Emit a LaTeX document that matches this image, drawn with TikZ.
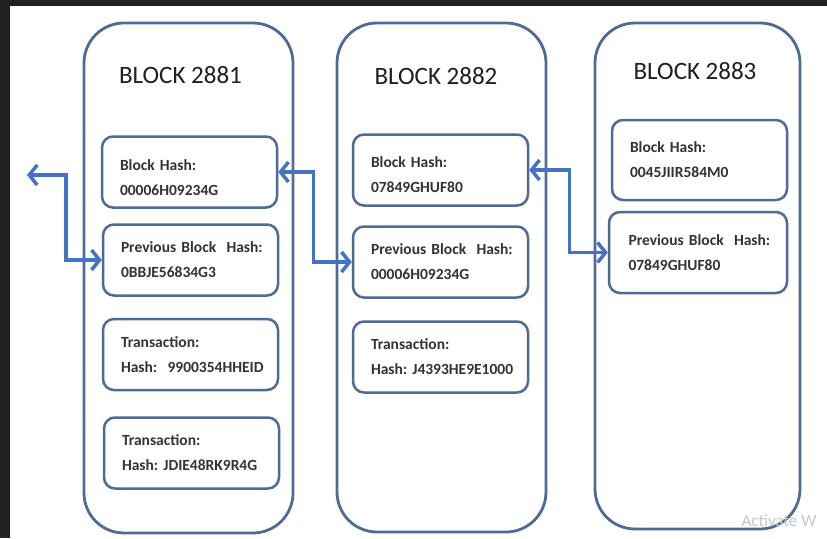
\documentclass[tikz,border=0pt]{standalone}
\usepackage{fontspec}
\setmainfont{Carlito}
\usetikzlibrary{positioning,arrows.meta,calc}
\definecolor{blockline}{RGB}{78,106,150}
\definecolor{linkblue}{RGB}{68,114,196}
\definecolor{framedark}{RGB}{34,34,34}
\tikzset{
  >={Straight Barb[length=8pt,width=20pt]},
}

\begin{document}
\begin{tikzpicture}[x=1pt, y=-1pt,
  chain/.style={draw=blockline, line width=2.8pt, rounded corners=40pt},
  title/.style={font=\fontsize{25}{30}\selectfont, text=black!88},
  field/.style={draw=blockline, line width=2.5pt, rounded corners=11pt, minimum width=175pt, minimum height=71pt,
    inner xsep=18pt, text width=139pt, align=left, font=\bfseries\fontsize{15.5}{25}\selectfont, text=black!80},
  link/.style={<->, draw=linkblue, line width=3.5pt}
]
  \clip (0,0) rectangle (827,538);
  \fill[white] (0,0) rectangle (827,538);
  \fill[framedark] (0,0) rectangle (827,6);
  \fill[framedark] (0,0) rectangle (10,538);

  \node[chain, minimum width=209pt, minimum height=510pt] (b1) at (188.5,278) {};
  \node[chain, minimum width=209pt, minimum height=509pt] (b2) at (441.5,277.5) {};
  \node[chain, minimum width=205pt, minimum height=506pt] (b3) at (697.5,276) {};

  \node[title] (t1) at (180.5,75) {BLOCK 2881};
  \node[title] (t2) at (436,76) {BLOCK 2882};
  \node[title] (t3) at (695,71) {BLOCK 2883};

  \node[field] (h1) at (189.5,172) {\rule{0pt}{22pt}Block~Hash:\\00006H09234G};
  \node[field] (p1) at (190.5,260) {Previous~Block~~Hash:\\0BBJE56834G3};
  \node[field] (x1) at (190.5,354.5) {Transaction:\\Hash:~~9900354HHEID};
  \node[field] (y1) at (191.5,453) {Transaction:\\Hash:~JDIE48RK9R4G};

  \node[field] (h2) at (440.5,170) {\rule{0pt}{20pt}Block~Hash:\\07849GHUF80};
  \node[field] (p2) at (440.5,262) {Previous~Block~~Hash:\\00006H09234G};
  \node[field] (x2) at (440.5,357) {Transaction:\\Hash:~J4393HE9E1000};

  \node[field, minimum height=80pt] (h3) at (699.5,160) {Block~Hash:\\0045JIIR584M0};
  \node[field, minimum width=178pt, minimum height=81pt] (p3) at (698,252.5) {Previous~Block~~Hash:\\07849GHUF80};

  \coordinate (out) at (27,175);
  \draw[link] (out) -| ([xshift=-36pt]p1.west) -- (p1.west);
  \draw[link] (h1.east) -- ++(35,0) |- (p2.west);
  \draw[link] (h2.east) -- ++(40,0) |- (p3.west);

  \node[anchor=west, text=black!22, font=\fontsize{17}{20}\selectfont] (wm) at (738,521) {Activate W};
\end{tikzpicture}
\end{document}
